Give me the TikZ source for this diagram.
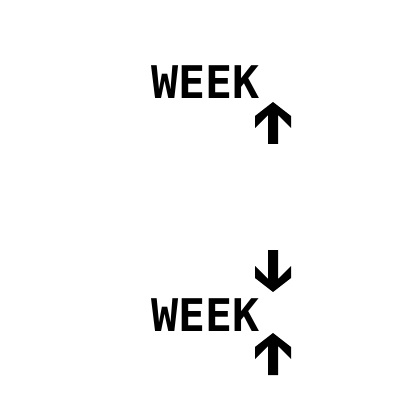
\documentclass[tikz,border=0pt]{standalone}
\usepackage{fontspec}
\newfontfamily\weekfont{DejaVu Sans Mono}
\usetikzlibrary{positioning}

\tikzset{
  label/.style={inner sep=0pt, anchor=base west, font=\weekfont\bfseries\fontsize{32pt}{34pt}\selectfont},
  upsign/.pic={\fill (0,0) -- (-18,14) -- (-18,26) -- (-5,13) -- (-5,42)
    -- (5,42) -- (5,13) -- (18,26) -- (18,14) -- cycle;},
  downsign/.pic={\fill (0,0) -- (-18,-14) -- (-18,-26) -- (-5,-13) -- (-5,-42)
    -- (5,-42) -- (5,-13) -- (18,-26) -- (18,-14) -- cycle;}
}

\begin{document}
\begin{tikzpicture}[x=0.025cm, y=-0.025cm]
\useasboundingbox (0,0) rectangle (400,400);

\node[label] at (151,99) (week1) {WEEK};
\pic at (273,102) (up1) {upsign};

\pic at (273,292) (down2) {downsign};
\node[label] at (151,331) (week2) {WEEK};
\pic at (273,333) (up2) {upsign};
\end{tikzpicture}
\end{document}
